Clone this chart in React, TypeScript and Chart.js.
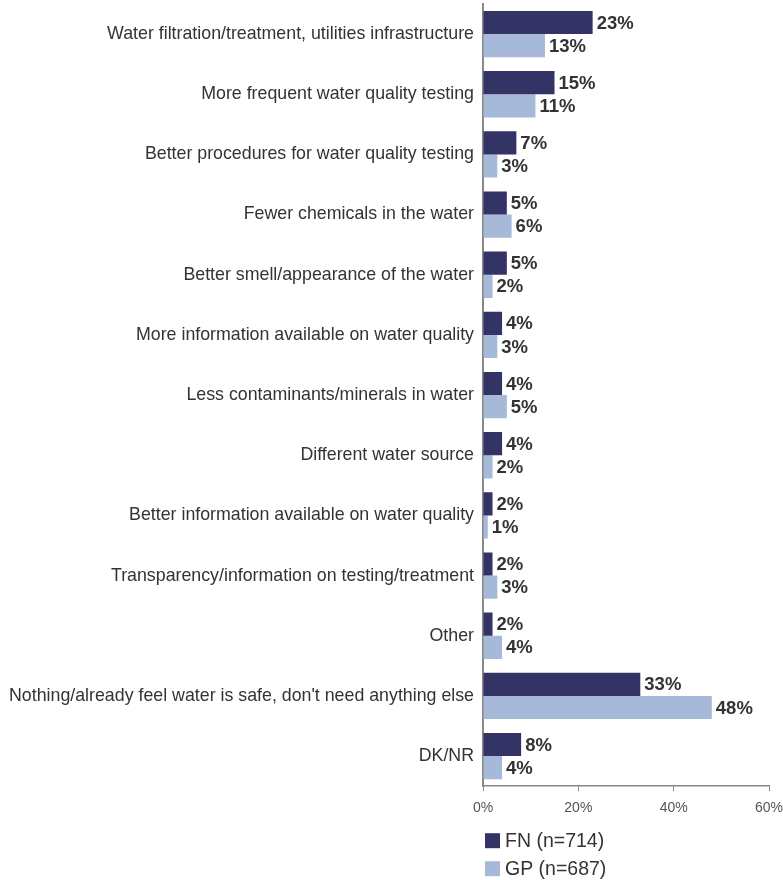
import React, { useEffect, useRef } from "react";
import { Chart, registerables } from "chart.js";

Chart.register(...registerables);

const categories = [
  "Water filtration/treatment, utilities infrastructure",
  "More frequent water quality testing",
  "Better procedures for water quality testing",
  "Fewer chemicals in the water",
  "Better smell/appearance of the water",
  "More information available on water quality",
  "Less contaminants/minerals in water",
  "Different water source",
  "Better information available on water quality",
  "Transparency/information on testing/treatment",
  "Other",
  "Nothing/already feel water is safe, don't need anything else",
  "DK/NR",
];

const fnValues = [23, 15, 7, 5, 5, 4, 4, 4, 2, 2, 2, 33, 8];
const gpValues = [13, 11, 3, 6, 2, 3, 5, 2, 1, 3, 4, 48, 4];

const seriesLabels = ["FN (n=714)", "GP (n=687)"];
const seriesColors = ["#333366", "#a6b9d9"];
const xTicks = [0, 20, 40, 60];

const FONT = "'Liberation Sans', Arial, sans-serif";

const valueLabelPlugin = {
  id: "valueLabels",
  afterDatasetsDraw(chart: any) {
    const ctx = chart.ctx;
    ctx.save();
    ctx.font = `bold 18.5px ${FONT}`;
    ctx.fillStyle = "#333333";
    ctx.textAlign = "left";
    ctx.textBaseline = "middle";
    chart.data.datasets.forEach((ds: any, di: number) => {
      const meta = chart.getDatasetMeta(di);
      meta.data.forEach((el: any, i: number) => {
        ctx.fillText(ds.data[i] + "%", el.x + 4, el.y + 1);
      });
    });
    ctx.restore();
  },
};

const legendPlugin = {
  id: "customLegend",
  afterDraw(chart: any) {
    const ctx = chart.ctx;
    const left = chart.chartArea.left;
    ctx.save();
    ctx.font = `19.5px ${FONT}`;
    ctx.textAlign = "left";
    ctx.textBaseline = "middle";
    chart.data.datasets.forEach((ds: any, i: number) => {
      const cy = chart.chartArea.bottom + 54.5 + i * 28;
      ctx.fillStyle = ds.backgroundColor;
      ctx.fillRect(left + 2, cy - 7.5, 15, 15);
      ctx.fillStyle = "#333333";
      ctx.fillText(ds.label, left + 22, cy + 1);
    });
    ctx.restore();
  },
};

export default function App() {
  const ref = useRef<HTMLCanvasElement | null>(null);
  useEffect(() => {
    document.body.style.margin = "0";
    if (!ref.current) return;
    const chart = new Chart(ref.current, {
      type: "bar",
      data: {
        labels: categories,
        datasets: [
          { label: seriesLabels[0], data: fnValues, backgroundColor: seriesColors[0] },
          { label: seriesLabels[1], data: gpValues, backgroundColor: seriesColors[1] },
        ],
      },
      options: {
        indexAxis: "y",
        animation: false,
        responsive: false,
        maintainAspectRatio: false,
        layout: { padding: { left: 0, right: 0, top: 4, bottom: 54 } },
        datasets: { bar: { categoryPercentage: 0.77, barPercentage: 1 } },
        plugins: { legend: { display: false }, tooltip: { enabled: false } },
        scales: {
          x: {
            min: 0,
            max: 60,
            afterBuildTicks(axis: any) {
              axis.ticks = xTicks.map((v) => ({ value: v }));
            },
            afterFit(scale: any) {
              scale.paddingRight = 14;
              scale.paddingLeft = 0;
            },
            grid: { display: true, drawOnChartArea: false, drawTicks: true, tickLength: 5, color: "#888888", lineWidth: 1 },
            border: { display: true, color: "#888888", width: 1.5 },
            ticks: {
              callback: (v: any) => v + "%",
              font: { family: FONT, size: 14 },
              color: "#555555",
              padding: 9,
              maxRotation: 0,
            },
          },
          y: {
            afterFit(scale: any) {
              scale.width = 483;
              scale.paddingTop = 0;
              scale.paddingBottom = 0;
            },
            grid: { display: false, drawTicks: false },
            border: { display: true, color: "#888888", width: 2 },
            ticks: {
              font: { family: FONT, size: 17.8 },
              color: "#333333",
              padding: 9,
              autoSkip: false,
            },
          },
        },
      },
      plugins: [valueLabelPlugin, legendPlugin],
    });
    return () => chart.destroy();
  }, []);
  return <canvas ref={ref} width={783} height={880} style={{ display: "block" }} />;
}
